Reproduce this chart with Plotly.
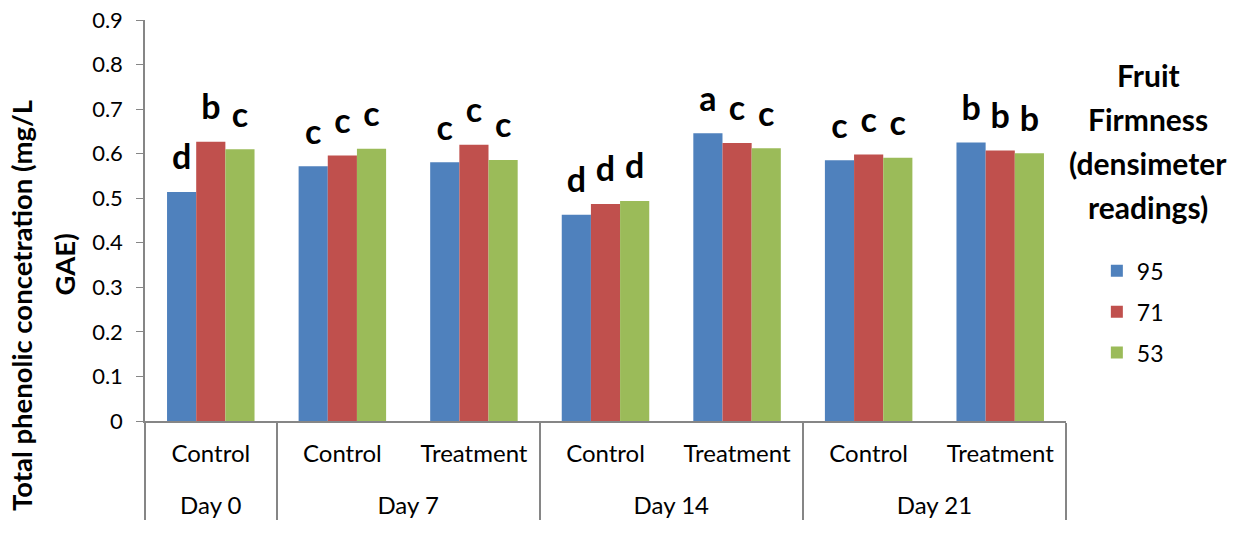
import plotly.graph_objects as go

# Sampling day and storage condition for each bar group
days = ["Day 0", "Day 7", "Day 7", "Day 14", "Day 14", "Day 21", "Day 21"]
conditions = ["Control", "Control", "Treatment", "Control", "Treatment", "Control", "Treatment"]

# Firmness classes (densimeter readings)
firmness = ["95", "71", "53"]

# Total phenolic concentration (mg/L GAE)
phenolic_95 = [0.514, 0.572, 0.581, 0.463, 0.646, 0.585, 0.625]
phenolic_71 = [0.627, 0.596, 0.620, 0.487, 0.624, 0.598, 0.607]
phenolic_53 = [0.610, 0.611, 0.586, 0.494, 0.612, 0.591, 0.601]

# Significance letters
letters_95 = ["d", "c", "c", "d", "a", "c", "b"]
letters_71 = ["b", "c", "c", "d", "c", "c", "b"]
letters_53 = ["c", "c", "c", "d", "c", "c", "b"]

colors = ["#4F81BD", "#C0504D", "#9BBB59"]
FONT = "Lato, 'Open Sans', sans-serif"
GAP = 0.335

series = [phenolic_95, phenolic_71, phenolic_53]
letters = [letters_95, letters_71, letters_53]

# Inner labels carry an empty second line so the day row sits lower
inner = [c + "<br> " for c in conditions]
xcats = [days, inner]

fig = go.Figure()
for i, (name, vals) in enumerate(zip(firmness, series)):
    fig.add_trace(go.Bar(
        x=xcats, y=vals, name=name,
        marker=dict(color=colors[i], line=dict(width=0)),
        legendgroup=name, offsetgroup="bar" + str(i), alignmentgroup="bars",
    ))

# Letters above bars: invisible markers push the text up by a fixed pixel amount
for i, (name, vals) in enumerate(zip(firmness, series)):
    fig.add_trace(go.Scatter(
        x=xcats, y=vals, mode="markers+text",
        text=letters[i], textposition="top center",
        textfont=dict(family=FONT, size=34, color="black", weight="bold"),
        marker=dict(size=21, opacity=0),
        showlegend=False, hoverinfo="skip",
        offsetgroup="txt" + str(i), alignmentgroup="txt",
    ))

fig.update_layout(
    width=1250, height=546,
    margin=dict(l=145, r=184, t=20, b=125, autoexpand=False),
    paper_bgcolor="white", plot_bgcolor="white",
    barmode="group", bargap=GAP, bargroupgap=0,
    scattermode="group", scattergap=GAP,
    font=dict(family=FONT, color="black"),
    legend=dict(
        x=1.0335, y=0.428, xanchor="left", yanchor="top",
        font=dict(size=23), tracegroupgap=8,
        itemwidth=30,
    ),
)

fig.update_yaxes(
    range=[0, 0.9], dtick=0.1, tickformat="~g",
    showgrid=False, zeroline=False, automargin=False,
    showline=True, linecolor="#868686", linewidth=1.5,
    ticks="outside", ticklen=7, tickcolor="#868686",
    tickfont=dict(size=22), ticklabelstandoff=9,
)
fig.update_xaxes(
    showgrid=False, showline=True, linecolor="#868686", linewidth=1.5,
    automargin=False,
    ticks="outside", ticklen=0, tickcolor="#868686",
    showdividers=True, dividercolor="#868686", dividerwidth=1.5,
    tickfont=dict(size=24), ticklabelstandoff=10,
)

# Y-axis title on two lines
fig.add_annotation(
    text="<b>Total phenolic concetration (mg/L</b>", textangle=-90,
    xref="paper", yref="paper", x=-0.1335, y=0.287, xanchor="center", yanchor="middle",
    showarrow=False, font=dict(size=27.5),
)
fig.add_annotation(
    text="<b>GAE)</b>", textangle=-90,
    xref="paper", yref="paper", x=-0.087, y=0.39, xanchor="center", yanchor="middle",
    showarrow=False, font=dict(size=27.5),
)

# Legend heading
for k, line in enumerate(["Fruit", "Firmness", "(densimeter", "readings)"]):
    fig.add_annotation(
        text=f"<b>{line}</b>", xref="paper", yref="paper",
        x=(1148 - 145) / 921, y=(421 - (75 + 44 * k)) / 401,
        xanchor="center", yanchor="middle", showarrow=False,
        font=dict(size=30),
    )

fig.write_html("out.html")
